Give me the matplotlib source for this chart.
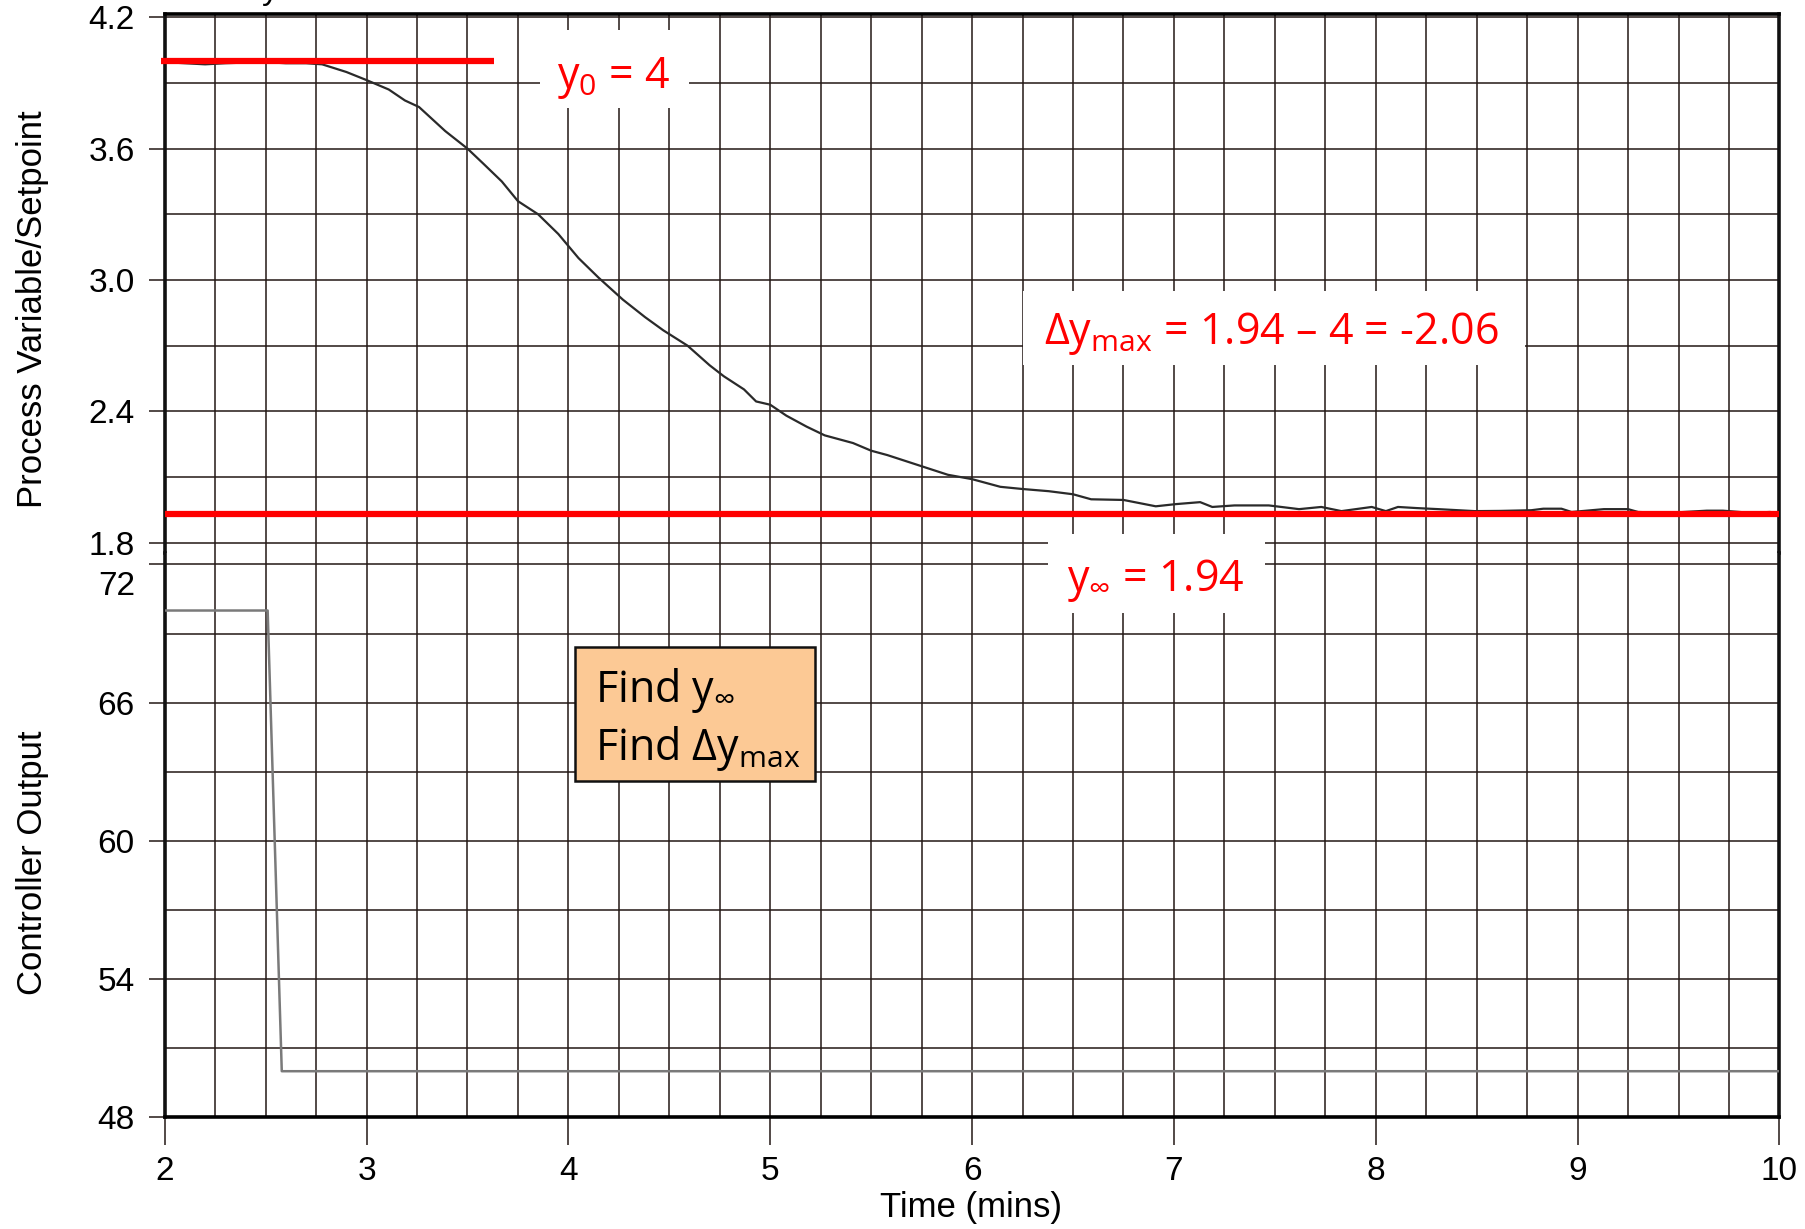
import matplotlib
matplotlib.use('Agg')
import matplotlib.pyplot as plt
import matplotlib.transforms as mtransforms
from matplotlib.patches import Rectangle
from matplotlib.ticker import MultipleLocator

plt.rcParams['font.family'] = ['Liberation Sans', 'DejaVu Sans']
plt.rcParams['mathtext.fontset'] = 'custom'
plt.rcParams['mathtext.rm'] = 'Open Sans'
plt.rcParams['mathtext.it'] = 'Open Sans:italic'
plt.rcParams['mathtext.bf'] = 'Open Sans:bold'

# process variable (time in mins)
pv_time = [2.0, 2.1, 2.2, 2.3, 2.4, 2.5, 2.6, 2.7, 2.78, 2.9,
           3.0, 3.11, 3.19, 3.26, 3.39, 3.5, 3.58, 3.67, 3.75, 3.85,
           3.95, 4.05, 4.15, 4.27, 4.38, 4.47, 4.59, 4.7, 4.77, 4.87,
           4.93, 5.0, 5.08, 5.18, 5.27, 5.41, 5.5, 5.58, 5.68, 5.78,
           5.88, 6.0, 6.14, 6.25, 6.38, 6.5, 6.59, 6.75, 6.91, 7.01,
           7.13, 7.19, 7.3, 7.47, 7.62, 7.73, 7.83, 7.98, 8.05, 8.11,
           8.2, 8.31, 8.49, 8.62, 8.77, 8.83, 8.92, 8.97, 9.13, 9.25,
           9.3, 9.45, 9.64, 9.72, 9.86, 9.95]
pv_value = [3.995, 3.99, 3.985, 3.99, 3.993, 3.995, 3.99, 3.99, 3.985, 3.95,
            3.913, 3.87, 3.82, 3.79, 3.68, 3.60, 3.53, 3.45, 3.36, 3.30,
            3.21, 3.10, 3.01, 2.91, 2.83, 2.77, 2.70, 2.61, 2.56, 2.50,
            2.445, 2.43, 2.38, 2.33, 2.29, 2.255, 2.22, 2.20, 2.17, 2.14,
            2.11, 2.09, 2.055, 2.045, 2.035, 2.021, 1.998, 1.995, 1.966, 1.976,
            1.985, 1.963, 1.97, 1.97, 1.953, 1.963, 1.944, 1.963, 1.944, 1.963,
            1.958, 1.953, 1.944, 1.945, 1.948, 1.955, 1.955, 1.94, 1.953, 1.953,
            1.94, 1.936, 1.946, 1.946, 1.936, 1.94]

# controller output step
co_time = [2.0, 2.51, 2.58, 10.0]
co_value = [70, 70, 50, 50]

y0 = 4.0
y_inf = 1.93       # where the red line is drawn
y0_span = [1.98, 3.63]

x_ticks = [2, 3, 4, 5, 6, 7, 8, 9, 10]
pv_ticks = [1.8, 2.4, 3.0, 3.6, 4.2]
co_ticks = [48, 54, 60, 66, 72]

grid_c = '#231815'

fig = plt.figure(figsize=(18.06, 12.29), dpi=100)
ax1 = fig.add_axes([0.0912, 0.5501, 0.8941, 0.4387])
ax2 = fig.add_axes([0.0912, 0.0909, 0.8941, 0.4592], sharex=ax1)

for ax in (ax1, ax2):
    ax.set_xlim(2, 10)
    ax.set_xticks(x_ticks)
    ax.xaxis.set_minor_locator(MultipleLocator(0.25))
    ax.grid(which='both', color=grid_c, lw=1.1)
    ax.set_axisbelow(True)
    ax.tick_params(axis='y', which='major', length=11.5, width=1.1, pad=10,
                   labelsize=24, color=grid_c)
    ax.tick_params(axis='both', which='minor', length=0)
    for s in ('left', 'right'):
        ax.spines[s].set_linewidth(2.6)
        ax.spines[s].set_color('#111111')

ax1.set_ylim(1.753, 4.216)
ax1.set_yticks(pv_ticks)
ax1.set_yticklabels([f'{v:.1f}' for v in pv_ticks])
ax1.yaxis.set_minor_locator(MultipleLocator(0.3))
ax1.tick_params(axis='x', which='both', length=0, labelbottom=False)
ax1.spines['bottom'].set_visible(False)
ax1.spines['top'].set_linewidth(2.6)

ax2.set_ylim(48, 72.5)
ax2.set_yticks(co_ticks)
ax2.yaxis.set_minor_locator(MultipleLocator(3))
ax2.tick_params(axis='x', which='major', length=20, width=1.1, pad=8,
                labelsize=24, color=grid_c)
ax2.spines['top'].set_visible(False)
ax2.spines['bottom'].set_linewidth(2.6)
# the 72 label sits a little under its grid line in the original
shift = mtransforms.ScaledTranslation(0, -5 / 72, fig.dpi_scale_trans)
for lbl in ax2.get_yticklabels():
    if lbl.get_text() == '72':
        lbl.set_va('top')
        lbl.set_transform(lbl.get_transform() + shift)

ax1.plot(pv_time, pv_value, color='#2a2a2a', lw=1.6, zorder=3)
ax1.hlines(y0, y0_span[0], y0_span[1], color='red', lw=4.5, zorder=4, clip_on=False)
ax1.axhline(y_inf, color='red', lw=4.5, zorder=4)
ax2.plot(co_time, co_value, color='#7a7a7a', lw=1.8, zorder=3)

fig.text(0.0178, 0.7484, 'Process Variable/Setpoint', rotation=90,
         ha='center', va='center', fontsize=25)
fig.text(0.0178, 0.2976, 'Controller Output', rotation=90,
         ha='center', va='center', fontsize=25)
fig.text(0.5376, 0.0178, 'Time (mins)', ha='center', va='center', fontsize=25)
fig.text(0.1499, 1.0005, 'y', ha='center', va='baseline', fontsize=24)


def box(x0, y0, w, h, **kw):
    fig.add_artist(Rectangle((x0, y0), w, h, transform=fig.transFigure, zorder=5, **kw))


# white label boxes + red annotations
box(0.2991, 0.9119, 0.0823, 0.0637, facecolor='white', edgecolor='none')
box(0.5663, 0.7029, 0.2781, 0.0600, facecolor='white', edgecolor='none')
box(0.5804, 0.5014, 0.1199, 0.0637, facecolor='white', edgecolor='none')
red_kw = dict(color='red', fontsize=31, family='Open Sans', ha='center',
              va='baseline', zorder=6)
fig.text(0.3399, 0.9288, r'y$_\mathrm{0}$ = 4', **red_kw)
fig.text(0.7041, 0.7198, r'$\Delta$y$_\mathrm{max}$ = 1.94 – 4 = -2.06', **red_kw)
fig.text(0.6397, 0.5192, r'y$_\infty$ = 1.94', **red_kw)

# question box
box(0.3182, 0.3646, 0.1333, 0.1087, facecolor='#fcc995', edgecolor='#111111', lw=1.8)
q_kw = dict(color='black', fontsize=31, family='Open Sans', ha='left',
            va='baseline', zorder=6)
fig.text(0.3297, 0.4292, r'Find y$_\infty$', **q_kw)
fig.text(0.3297, 0.3814, r'Find $\Delta$y$_\mathrm{max}$', **q_kw)

fig.savefig('out.png', dpi=100)
